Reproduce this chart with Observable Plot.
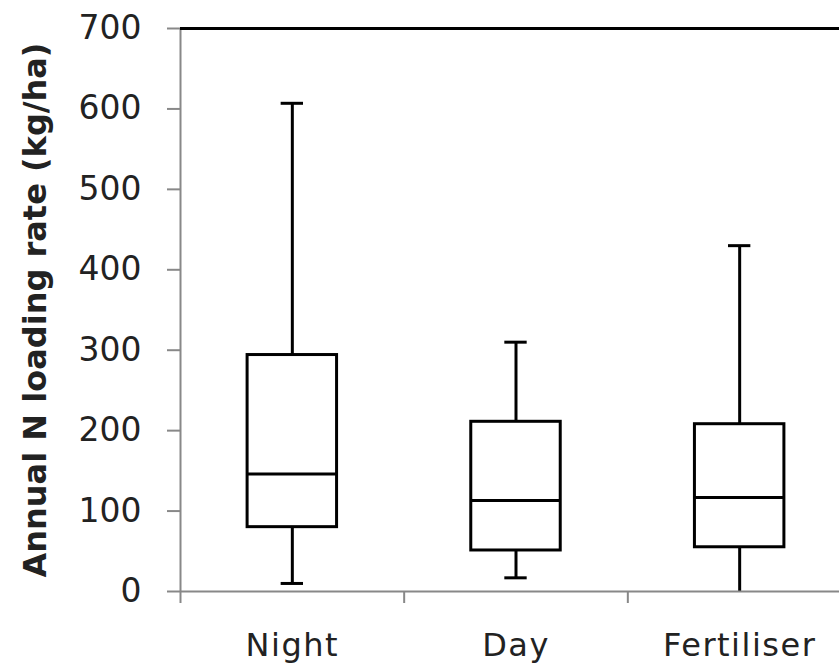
<!DOCTYPE html>
<html>
<head>
<meta charset="utf-8">
<script src="https://cdn.jsdelivr.net/npm/d3@7"></script>
<script src="https://cdn.jsdelivr.net/npm/@observablehq/plot@0.6"></script>
<style>
  html, body { margin: 0; padding: 0; background: #fff; }
  svg text { font-family: "DejaVu Sans", sans-serif; }
  g[aria-label="x-axis tick label"] text { letter-spacing: 1.5px; }
</style>
</head>
<body>
<div id="chart"></div>
<script>
const categories = ["Night", "Day", "Fertiliser"];
const whiskerLow = [10, 17, 0];
const q1 = [80, 51, 55];
const median = [146, 113, 117];
const q3 = [294, 211, 208];
const whiskerHigh = [607, 310, 430];
const yTicks = [0, 100, 200, 300, 400, 500, 600, 700];
const yTitle = "Annual N loading rate (kg/ha)";

const data = categories.map((c, i) => ({
  name: c, i, lo: whiskerLow[i], q1: q1[i], med: median[i], q3: q3[i], hi: whiskerHigh[i]
}));
const capped = data.filter(d => d.lo > 0);

const chart = Plot.plot({
  width: 839,
  height: 668,
  marginLeft: 180,
  marginTop: 28,
  marginBottom: 77,
  marginRight: 0,
  x: { type: "linear", domain: [0, 3], range: [180, 851] },
  y: { domain: [0, 700] },
  marks: [
    Plot.ruleX(data, { x: d => d.i + 0.5, y1: "q3", y2: "hi", stroke: "black", strokeWidth: 3 }),
    Plot.ruleX(data, { x: d => d.i + 0.5, y1: "lo", y2: "q1", stroke: "black", strokeWidth: 3 }),
    Plot.ruleY(data, { y: "hi", x1: d => d.i + 0.45, x2: d => d.i + 0.55, stroke: "black", strokeWidth: 3 }),
    Plot.ruleY(capped, { y: "lo", x1: d => d.i + 0.45, x2: d => d.i + 0.55, stroke: "black", strokeWidth: 3 }),
    Plot.rect(data, { x1: d => d.i + 0.3, x2: d => d.i + 0.7, y1: "q1", y2: "q3", fill: "white", stroke: "black", strokeWidth: 3 }),
    Plot.ruleY(data, { y: "med", x1: d => d.i + 0.3, x2: d => d.i + 0.7, stroke: "black", strokeWidth: 3 }),
    Plot.ruleX([0], { stroke: "#888", strokeWidth: 2 }),
    Plot.ruleY([0], { stroke: "#888", strokeWidth: 2 }),
    Plot.ruleY([700], { x1: 0, x2: 3, stroke: "black", strokeWidth: 3 }),
    Plot.axisY({
      ticks: yTicks, tickSize: 13, tickPadding: 26, stroke: "#888", strokeWidth: 2,
      fill: "#222", fontSize: 33, label: null
    }),
    Plot.axisX({ ticks: [0, 1, 2, 3], tickSize: 12, tickFormat: () => "", stroke: "#888", strokeWidth: 2, label: null }),
    Plot.axisX({
      ticks: [0.5, 1.5, 2.5], tickSize: 0, tickPadding: 42,
      tickFormat: v => categories[Math.floor(v)], fill: "#222", fontSize: 32, label: null
    }),
    Plot.text([yTitle], {
      frameAnchor: "left", textAnchor: "middle", lineAnchor: "middle", dx: -145, rotate: -90, text: d => d,
      fontSize: 32, fontWeight: "bold", fill: "#222"
    })
  ]
});
document.getElementById("chart").appendChild(chart);
</script>
</body>
</html>
